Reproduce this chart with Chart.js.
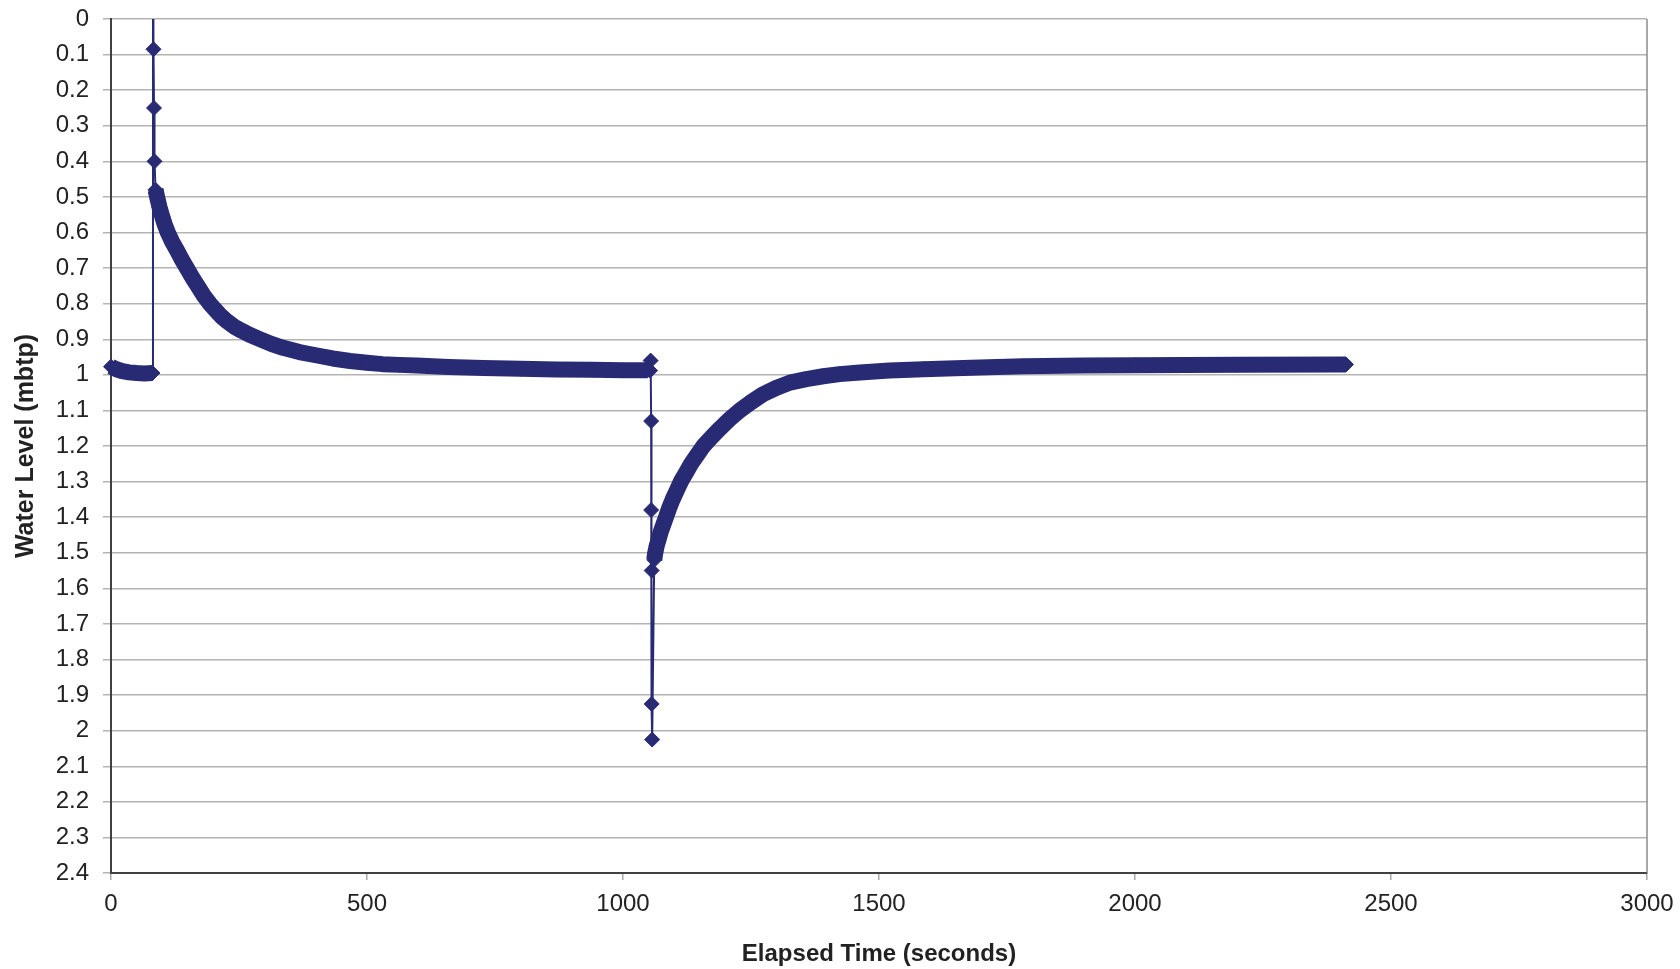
<!DOCTYPE html>
<html>
<head>
<meta charset="utf-8">
<script src="https://cdn.jsdelivr.net/npm/chart.js@4"></script>
<style>
  html, body { margin: 0; padding: 0; background: #fff; }
  #wrap { width: 1680px; height: 969px; }
</style>
</head>
<body>
<div id="wrap"><canvas id="levelChart"></canvas></div>
<script>
// Slug test: water level (mbtp) against elapsed time (s)
// before the first slug
const preTime  = [0, 10, 20, 35, 50, 65, 81];
const preLevel = [0.977, 0.984, 0.989, 0.993, 0.995, 0.996, 0.995];

// first slug in (single readings, thin line)
const spike1Time  = [82, 83, 84, 85];
const spike1Level = [-0.3, 0.085, 0.25, 0.40];

// recovery after the first slug
const rec1Time  = [87, 90, 95, 100, 105, 111, 119, 128, 138, 148, 159, 170, 181, 193, 204, 215, 227, 240, 255, 270, 291, 313, 336, 368, 400, 433, 467, 500, 530, 563, 597, 660, 727, 800, 870, 940, 1000, 1048];
const rec1Level = [0.48, 0.50, 0.53, 0.555, 0.578, 0.60, 0.625, 0.648, 0.675, 0.70, 0.727, 0.752, 0.777, 0.80, 0.818, 0.835, 0.85, 0.864, 0.876, 0.887, 0.90, 0.913, 0.924, 0.936, 0.945, 0.954, 0.961, 0.966, 0.970, 0.972, 0.974, 0.978, 0.981, 0.983, 0.985, 0.986, 0.987, 0.987];

// slug out
const spike2Time  = [1053, 1054, 1055, 1055, 1056, 1056, 1057];
const spike2Level = [0.988, 0.96, 1.13, 1.38, 1.55, 1.925, 2.025];

// recovery after the slug is pulled
const rec2Time  = [1061, 1063, 1066, 1070, 1074, 1079, 1084, 1090, 1097, 1105, 1113, 1123, 1133, 1145, 1157, 1173, 1190, 1208, 1228, 1250, 1273, 1299, 1326, 1358, 1391, 1423, 1456, 1520, 1587, 1680, 1782, 1900, 2000, 2200, 2412];
const rec2Level = [1.52, 1.50, 1.48, 1.46, 1.44, 1.42, 1.40, 1.375, 1.35, 1.325, 1.30, 1.275, 1.25, 1.225, 1.20, 1.175, 1.15, 1.125, 1.10, 1.077, 1.055, 1.037, 1.022, 1.012, 1.004, 0.998, 0.994, 0.988, 0.984, 0.980, 0.976, 0.974, 0.973, 0.972, 0.971];

// axis ticks
const timeTicks  = [0, 500, 1000, 1500, 2000, 2500, 3000];
const levelTicks = [0, 0.1, 0.2, 0.3, 0.4, 0.5, 0.6, 0.7, 0.8, 0.9, 1, 1.1, 1.2, 1.3, 1.4, 1.5, 1.6, 1.7, 1.8, 1.9, 2, 2.1, 2.2, 2.3, 2.4];

const parts = [
    [preTime, preLevel, true],
    [spike1Time, spike1Level, false],
    [rec1Time, rec1Level, true],
    [spike2Time, spike2Level, false],
    [rec2Time, rec2Level, true]
];
const points = [];
const dense = [];
parts.forEach(([t, w, isDense]) => {
    t.forEach((x, i) => {
        points.push({ x: x, y: w[i] });
        dense.push(isDense);
    });
});

const navy = '#282b74';
const font = "'Liberation Sans', Arial, sans-serif";

// right-hand edge of the plot frame
const frame = {
    id: 'frame',
    afterDraw(chart) {
        const a = chart.chartArea, c = chart.ctx;
        c.save();
        c.strokeStyle = '#8c8c8c';
        c.lineWidth = 1.5;
        c.beginPath();
        c.moveTo(a.right, a.top);
        c.lineTo(a.right, a.bottom);
        c.stroke();
        c.restore();
    }
};

new Chart(document.getElementById('levelChart').getContext('2d'), {
    type: 'line',
    data: {
        datasets: [{
            label: 'Water Level',
            data: points,
            borderColor: navy,
            backgroundColor: navy,
            borderWidth: 2,
            borderJoinStyle: 'round',
            pointStyle: 'rectRot',
            pointRadius: 7.5,
            pointBorderWidth: 1,
            pointBackgroundColor: navy,
            pointBorderColor: navy,
            tension: 0,
            fill: false,
            clip: { left: 12, right: 12, top: 0, bottom: 12 },
            segment: {
                borderWidth: ctx => (dense[ctx.p0DataIndex] && dense[ctx.p1DataIndex]) ? 16 : 2
            }
        }]
    },
    options: {
        responsive: true,
        maintainAspectRatio: false,
        animation: false,
        layout: { padding: { top: 19, right: 33, left: 0, bottom: 0 } },
        plugins: {
            legend: { display: false },
            tooltip: { enabled: false }
        },
        scales: {
            x: {
                type: 'linear',
                min: 0,
                max: 3000,
                afterBuildTicks: s => { s.ticks = timeTicks.map(v => ({ value: v })); },
                afterFit: s => { s.height = 96; s.paddingLeft = 0; s.paddingRight = 0; },
                grid: { drawOnChartArea: false, drawTicks: true, tickLength: 7, color: '#a8a8a8', lineWidth: 1.5 },
                border: { color: '#404040', width: 2 },
                ticks: {
                    color: '#222',
                    font: { family: font, size: 24 },
                    padding: 10,
                    maxRotation: 0,
                    callback: v => String(v)
                },
                title: {
                    display: true,
                    text: 'Elapsed Time (seconds)',
                    color: '#222',
                    font: { family: font, size: 24, weight: 'bold' },
                    padding: { top: 0, bottom: 0 }
                }
            },
            y: {
                type: 'linear',
                reverse: true,
                min: 0,
                max: 2.4,
                afterBuildTicks: s => { s.ticks = levelTicks.map(v => ({ value: v })); },
                afterFit: s => { s.width = 111; s.paddingTop = 0; s.paddingBottom = 0; },
                grid: { color: '#b3b3b3', lineWidth: 1.5, drawTicks: true, tickLength: 8 },
                border: { color: '#404040', width: 2 },
                ticks: {
                    color: '#222',
                    font: { family: font, size: 24 },
                    padding: 14,
                    callback: v => String(+v.toFixed(1))
                },
                title: {
                    display: true,
                    text: 'Water Level (mbtp)',
                    color: '#222',
                    font: { family: font, size: 25, weight: 'bold' },
                    padding: { top: 11, bottom: 0 }
                }
            }
        }
    },
    plugins: [frame]
});
</script>
</body>
</html>
